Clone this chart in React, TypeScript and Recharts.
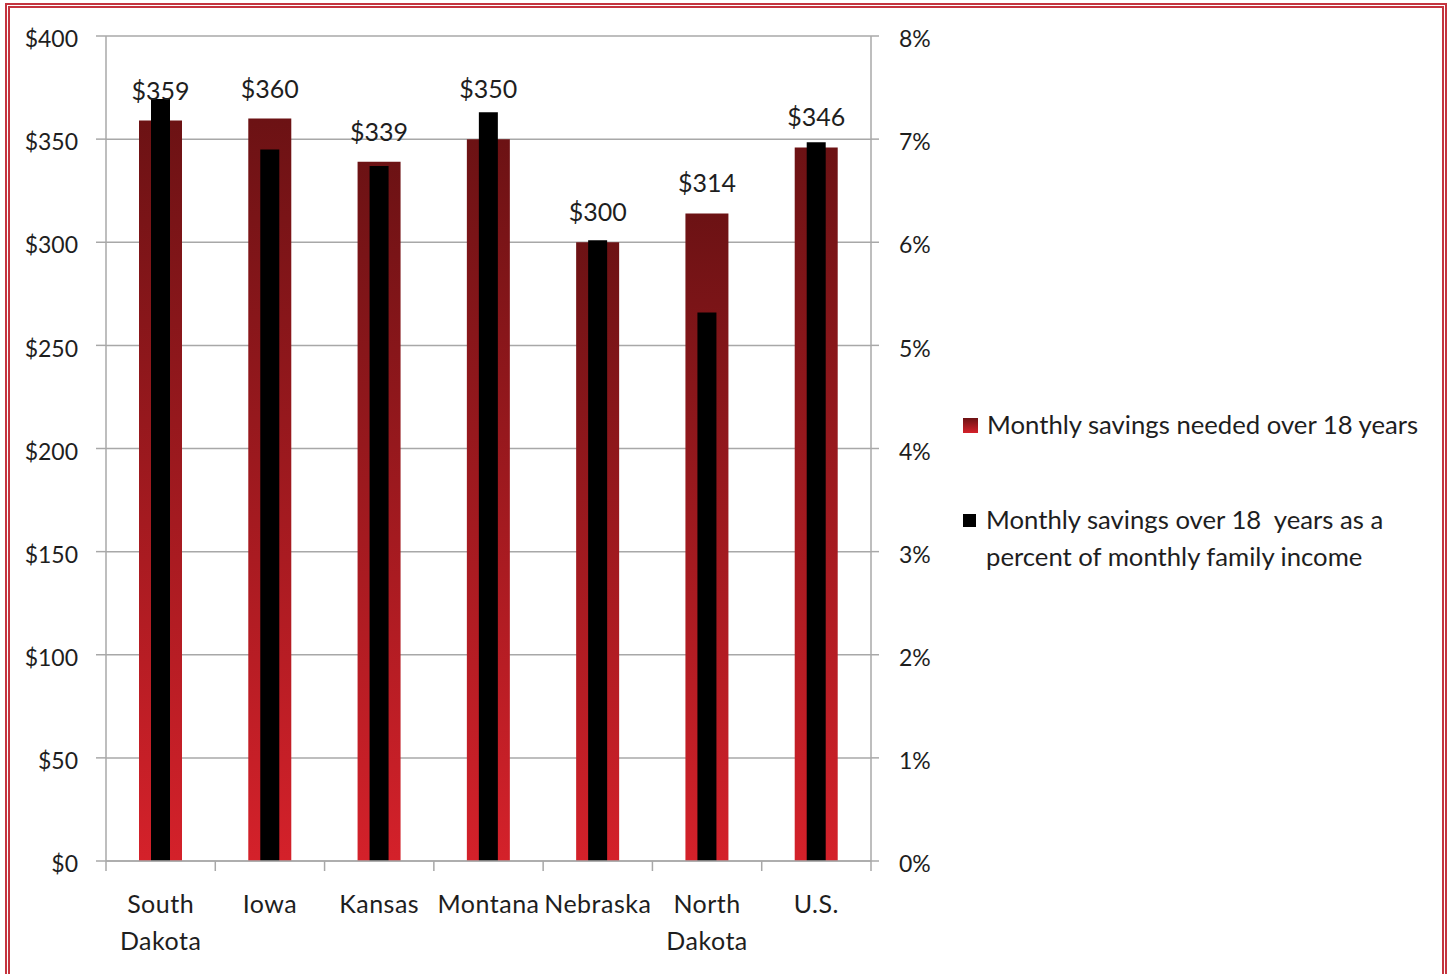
import React from 'react';
import {
  BarChart,
  Bar,
  XAxis,
  YAxis,
  CartesianGrid,
  LabelList,
} from 'recharts';

const states = ['South Dakota', 'Iowa', 'Kansas', 'Montana', 'Nebraska', 'North Dakota', 'U.S.'];
const savingsNeeded = [359, 360, 339, 350, 300, 314, 346];
const savingsPctIncome = [7.39, 6.9, 6.74, 7.26, 6.02, 5.32, 6.97];
const usdTicks = [0, 50, 100, 150, 200, 250, 300, 350, 400];
const pctTicks = [0, 1, 2, 3, 4, 5, 6, 7, 8];

const data = states.map((state, i) => ({
  state,
  needed: savingsNeeded[i],
  pct: savingsPctIncome[i],
}));

const FONT = 'Lato, "Open Sans", sans-serif';
const TEXT = '#1e1e1e';
const GRID = '#a8a8a8';
const PLOT_W = 765;

const CategoryTick = (props: any) => {
  const { x, y, payload, index } = props;
  const band = PLOT_W / states.length;
  const words = String(payload.value).split(' ');
  const axisY = y - 22;
  return (
    <g>
      <line x1={x - band / 2} x2={x - band / 2} y1={axisY} y2={axisY + 10} stroke={GRID} strokeWidth={1.5} />
      {index === states.length - 1 && (
        <line x1={x + band / 2} x2={x + band / 2} y1={axisY} y2={axisY + 10} stroke={GRID} strokeWidth={1.5} />
      )}
      <text x={x} y={y} textAnchor="middle" fill={TEXT} fontSize={25} fontFamily={FONT} letterSpacing={0.5}>
        {words.map((w, i) => (
          <tspan key={i} x={x} dy={i === 0 ? 30 : 37}>
            {w}
          </tspan>
        ))}
      </text>
    </g>
  );
};

// the Montana label sits higher in the original, clear of the black bar
const ValueLabel = (props: any) => {
  const { x, y, width, value, index } = props;
  const lift = index === 3 ? 41 : 21;
  return (
    <text
      x={x + width / 2}
      y={y - lift}
      textAnchor="middle"
      fill={TEXT}
      fontSize={25}
      fontFamily={FONT}
    >
      {`$${value}`}
    </text>
  );
};

export default function App() {
  return (
    <div style={{ position: 'absolute', left: 0, top: 0, width: 1449, height: 974, background: '#fff', fontFamily: FONT, overflow: 'hidden' }}>
      <div
        style={{
          position: 'absolute',
          left: 5,
          top: 3,
          width: 1442,
          height: 990,
          border: '5px double #c4343e',
          boxSizing: 'border-box',
        }}
      />
      <BarChart
        width={1449}
        height={974}
        data={data}
        margin={{ top: 36, right: 498, left: 0, bottom: 13 }}
        style={{ position: 'absolute', left: 0, top: 0 }}
      >
        <defs>
          <linearGradient id="redGrad" x1="0" y1="0" x2="0" y2="1">
            <stop offset="0%" stopColor="#6c1214" />
            <stop offset="100%" stopColor="#d4212a" />
          </linearGradient>
        </defs>
        <CartesianGrid yAxisId="usd" xAxisId="usd" vertical={false} stroke={GRID} strokeWidth={1.5} />
        <XAxis
          xAxisId="usd"
          dataKey="state"
          height={100}
          tickLine={false}
          axisLine={{ stroke: GRID, strokeWidth: 1.5 }}
          tick={<CategoryTick />}
          tickSize={0}
          tickMargin={22}
          interval={0}
        />
        <XAxis xAxisId="pct" dataKey="state" orientation="top" height={0} hide />
        <YAxis
          yAxisId="usd"
          domain={[0, 400]}
          ticks={usdTicks}
          width={106}
          tickSize={10}
          tickMargin={18}
          tickFormatter={(v: number) => `$${v}`}
          axisLine={{ stroke: GRID, strokeWidth: 1.5 }}
          tickLine={{ stroke: GRID, strokeWidth: 1.5 }}
          tick={{ fill: TEXT, fontSize: 23, fontFamily: FONT, dy: 3 }}
        />
        <YAxis
          yAxisId="pct"
          orientation="right"
          domain={[0, 8]}
          ticks={pctTicks}
          width={80}
          tickSize={8}
          tickMargin={20}
          tickFormatter={(v: number) => `${v}%`}
          axisLine={{ stroke: GRID, strokeWidth: 1.5 }}
          tickLine={{ stroke: GRID, strokeWidth: 1.5 }}
          tick={{ fill: TEXT, fontSize: 23, fontFamily: FONT, dy: 3 }}
        />
        <Bar
          xAxisId="usd"
          yAxisId="usd"
          dataKey="needed"
          barSize={43}
          fill="url(#redGrad)"
          isAnimationActive={false}
        >
          <LabelList dataKey="needed" content={<ValueLabel />} />
        </Bar>
        <Bar
          xAxisId="pct"
          yAxisId="pct"
          dataKey="pct"
          barSize={19}
          fill="#000"
          isAnimationActive={false}
        />
      </BarChart>
      <div style={{ position: 'absolute', left: 963, top: 406, color: TEXT, fontSize: 25.7, lineHeight: '37px' }}>
        <div style={{ display: 'flex', alignItems: 'flex-start' }}>
          <span
            style={{
              width: 15,
              height: 15,
              marginTop: 12,
              marginRight: 9,
              background: 'linear-gradient(#6c1214, #d4212a)',
              flex: 'none',
            }}
          />
          <span style={{ whiteSpace: 'nowrap' }}>Monthly savings needed over 18 years</span>
        </div>
        <div style={{ display: 'flex', alignItems: 'flex-start', marginTop: 58 }}>
          <span style={{ width: 13, height: 13, marginTop: 13, marginRight: 10, background: '#000', flex: 'none' }} />
          <span style={{ whiteSpace: 'nowrap' }}>
            Monthly savings over 18&nbsp; years as a
            <br />
            percent of monthly family income
          </span>
        </div>
      </div>
    </div>
  );
}
